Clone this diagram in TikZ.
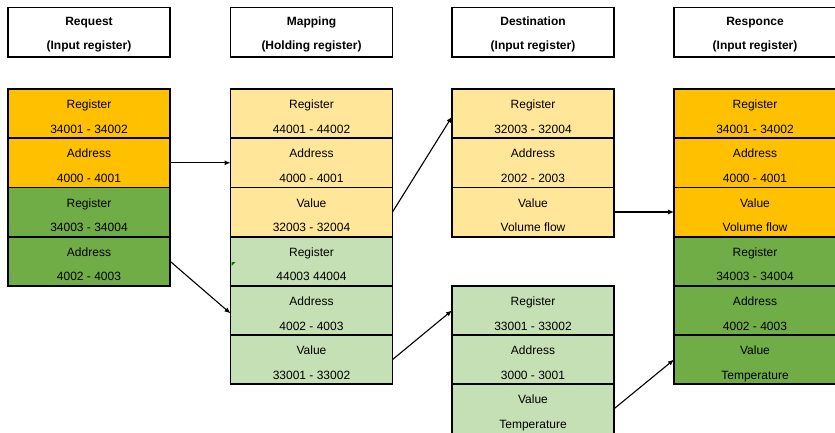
\documentclass[tikz,border=0pt]{standalone}
\usepackage{fontspec}
\setmainfont{Liberation Sans}
\usetikzlibrary{arrows.meta}
\definecolor{cOrange}{HTML}{FFC000}
\definecolor{cLOrange}{HTML}{FFE699}
\definecolor{cGreen}{HTML}{70AD47}
\definecolor{cLGreen}{HTML}{C5E0B4}
\newcommand{\cl}[2]{\raisebox{-2.5pt}[\height][\depth]{\begin{tabular}{@{}c@{}}#1\\#2\end{tabular}}}
\newcommand{\hd}[2]{\begin{tabular}{@{}c@{}}#1\\#2\end{tabular}}
\tikzset{
  cellbox/.style={draw=black, line width=1.8pt, rectangle, minimum width=162pt, minimum height=49.2pt,
    inner sep=0pt, outer sep=0pt, font=\fontsize{12}{24.5}\selectfont},
  headbox/.style={draw=black, line width=1.8pt, rectangle, fill=white, minimum width=162pt, minimum height=49.5pt,
    inner sep=0pt, outer sep=0pt, font=\fontsize{12}{24}\selectfont\bfseries},
  conn/.style={line width=1.1pt, -{Latex[length=6pt,width=5pt]}}
}
\begin{document}
\begin{tikzpicture}[x=1pt,y=-1pt]
\useasboundingbox (0,0) rectangle (835,432);
\clip (0,0) rectangle (835,432);
% headers
\node[headbox] (hreq) at (89,32.25) {\hd{Request}{(Input register)}};
\node[headbox] (hmap) at (311.5,32.25) {\hd{Mapping}{(Holding register)}};
\node[headbox] (hdst) at (533,32.25) {\hd{Destination}{(Input register)}};
\node[headbox] (hrsp) at (755,32.25) {\hd{Responce}{(Input register)}};
% Request
\node[cellbox, fill=cOrange] (req1) at (89,113.6) {\cl{Register}{34001 - 34002}};
\node[cellbox, fill=cOrange] (req2) at (89,162.8) {\cl{Address}{4000 - 4001}};
\node[cellbox, fill=cGreen] (req3) at (89,212) {\cl{Register}{34003 - 34004}};
\node[cellbox, fill=cGreen] (req4) at (89,261.2) {\cl{Address}{4002 - 4003}};
% Mapping
\node[cellbox, fill=cLOrange] (map1) at (311.5,113.6) {\cl{Register}{44001 - 44002}};
\node[cellbox, fill=cLOrange] (map2) at (311.5,162.8) {\cl{Address}{4000 - 4001}};
\node[cellbox, fill=cLOrange] (map3) at (311.5,212) {\cl{Value}{32003 - 32004}};
\node[cellbox, fill=cLGreen] (map4) at (311.5,261.2) {\cl{Register}{44003 44004}};
\node[cellbox, fill=cLGreen] (map5) at (311.5,310.4) {\cl{Address}{4002 - 4003}};
\node[cellbox, fill=cLGreen] (map6) at (311.5,359.6) {\cl{Value}{33001 - 33002}};
% Destination
\node[cellbox, fill=cLOrange] (dst1) at (533,113.6) {\cl{Register}{32003 - 32004}};
\node[cellbox, fill=cLOrange] (dst2) at (533,162.8) {\cl{Address}{2002 - 2003}};
\node[cellbox, fill=cLOrange] (dst3) at (533,212) {\cl{Value}{Volume flow}};
\node[cellbox, fill=cLGreen] (dstb1) at (533,310.4) {\cl{Register}{33001 - 33002}};
\node[cellbox, fill=cLGreen] (dstb2) at (533,359.6) {\cl{Address}{3000 - 3001}};
\node[cellbox, fill=cLGreen] (dstb3) at (533,408.8) {\cl{Value}{Temperature}};
% Responce
\node[cellbox, fill=cOrange] (rsp1) at (755,113.6) {\cl{Register}{34001 - 34002}};
\node[cellbox, fill=cOrange] (rsp2) at (755,162.8) {\cl{Address}{4000 - 4001}};
\node[cellbox, fill=cOrange] (rsp3) at (755,212) {\cl{Value}{Volume flow}};
\node[cellbox, fill=cGreen] (rsp4) at (755,261.2) {\cl{Register}{34003 - 34004}};
\node[cellbox, fill=cGreen] (rsp5) at (755,310.4) {\cl{Address}{4002 - 4003}};
\node[cellbox, fill=cGreen] (rsp6) at (755,359.6) {\cl{Value}{Temperature}};
% small green mark
\fill[green!50!black] (231.5,262) -- (235.5,262) -- (231.5,266) -- cycle;
% connectors
\draw[conn] (req2.east) -- (map2.west);
\draw[conn] (req4.east) -- ([yshift=-3pt]map5.west);
\draw[conn] (map3.east) -- ([yshift=-3pt]dst1.west);
\draw[conn] (map6.east) -- (dstb1.west);
\draw[conn] (dst3.east) -- (rsp3.west);
\draw[conn] (dstb3.east) -- (rsp6.west);
\end{tikzpicture}
\end{document}
